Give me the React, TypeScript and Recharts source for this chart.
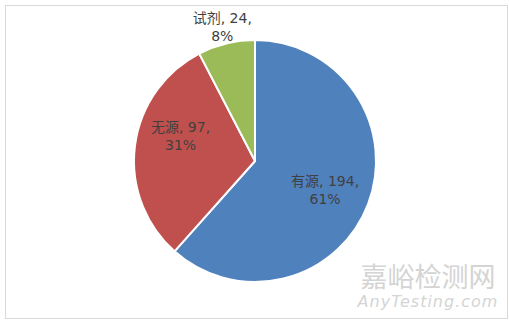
import { Cell, Pie, PieChart } from 'recharts';

const CATEGORIES = ['有源', '无源', '试剂'];
const COUNTS = [194, 97, 24];
const PERCENT_LABELS = ['61%', '31%', '8%'];
const COLORS = ['#4F81BD', '#C0504D', '#9BBB59'];

const RADIAN = Math.PI / 180;
const FONT = '"DejaVu Sans", "Noto Sans CJK SC", sans-serif';

const data = CATEGORIES.map((name, i) => ({
  name,
  value: COUNTS[i],
  pct: PERCENT_LABELS[i],
}));

// vertical nudges so the inside labels sit like Excel's best-fit placement
const LABEL_NUDGE = [2, -16, 0];

// small slices get their label outside the pie, the rest inside
function renderLabel(props: any) {
  const { cx, cy, midAngle, outerRadius, percent, name, value, payload, index } = props;
  const r = percent < 0.1 ? outerRadius + 17 : outerRadius * 0.62;
  const x = cx + r * Math.cos(-midAngle * RADIAN);
  const y = cy + r * Math.sin(-midAngle * RADIAN) + (LABEL_NUDGE[index] ?? 0);
  return (
    <text
      x={x}
      y={y}
      textAnchor="middle"
      fill="#404040"
      fontSize={14}
      fontFamily={FONT}
    >
      <tspan x={x} dy={-4}>{`${name}, ${value},`}</tspan>
      <tspan x={x} dy={18}>{payload?.pct ?? ''}</tspan>
    </text>
  );
}

export default function App() {
  return (
    <div
      style={{
        position: 'absolute',
        left: 0,
        top: 0,
        width: 509,
        height: 322,
        background: '#fff',
      }}
    >
      <div
        style={{
          position: 'absolute',
          left: 5,
          top: 5,
          width: 501,
          height: 312,
          border: '1px solid #d9d9d9',
        }}
      />
      <PieChart
        width={509}
        height={322}
        margin={{ top: 0, right: 0, bottom: 0, left: 0 }}
        style={{ position: 'absolute', left: 0, top: 0 }}
      >
        <Pie
          data={data}
          dataKey="value"
          nameKey="name"
          cx={255}
          cy={161}
          outerRadius={121}
          startAngle={90}
          endAngle={-270}
          stroke="#fff"
          strokeWidth={2}
          label={renderLabel}
          labelLine={false}
          isAnimationActive={false}
        >
          {data.map((d, i) => (
            <Cell key={d.name} fill={COLORS[i]} />
          ))}
        </Pie>
      </PieChart>
      <div
        style={{
          position: 'absolute',
          left: 357,
          top: 264,
          width: 142,
          textAlign: 'center',
          color: '#d4d4d4',
          fontFamily: FONT,
          lineHeight: 1,
        }}
      >
        <div style={{ fontSize: 27 }}>嘉峪检测网</div>
        <div style={{ fontSize: 16, fontStyle: 'italic', marginTop: 3, letterSpacing: 1 }}>
          AnyTesting.com
        </div>
      </div>
    </div>
  );
}
